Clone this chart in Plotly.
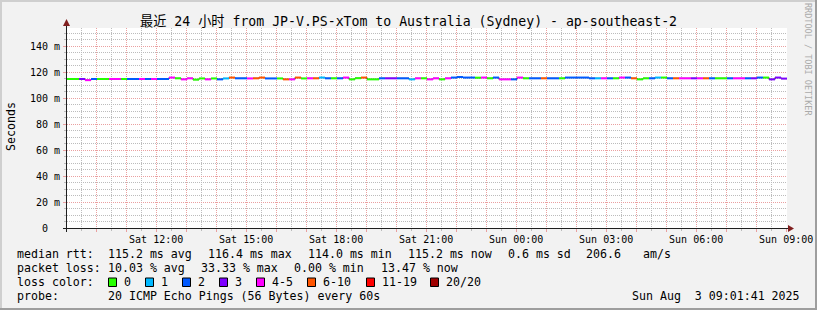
import plotly.graph_objects as go

# ---------------- data ----------------
end_hour = 33 + 1 / 60 + 41 / 3600      # Sun 09:01:41, hours since Sat 00:00
span_hours = 24.0
bin_hours = 12 / 60                      # 12-minute consolidated steps

median_rtt_ms = [
    114.9, 114.9, 114.9, 114.0, 114.9, 114.9, 114.9, 114.9, 114.9, 114.9,
    114.9, 114.9, 114.9, 114.9, 114.9, 114.9, 114.9, 116.0, 115.4, 114.6,
    115.4, 114.4, 115.3, 114.6, 115.3, 114.6, 115.3, 116.0, 115.4, 115.4,
    115.3, 115.4, 116.0, 115.3, 115.3, 115.3, 114.6, 114.6, 116.0, 115.3,
    115.4, 115.4, 116.0, 115.4, 115.4, 115.4, 116.0, 114.6, 115.5, 116.0,
    114.6, 114.6, 115.4, 115.4, 115.4, 115.4, 115.4, 114.6, 115.4, 115.4,
    114.6, 115.4, 114.6, 115.4, 116.0, 116.4, 116.0, 116.0, 115.9, 116.0,
    115.4, 116.0, 114.6, 114.6, 114.6, 116.0, 115.4, 115.4, 115.4, 115.4,
    115.4, 115.4, 115.4, 116.0, 116.0, 116.0, 116.0, 115.4, 115.4, 115.4,
    115.4, 115.4, 116.0, 116.0, 115.4, 114.6, 115.4, 115.4, 116.0, 116.0,
    115.4, 115.4, 115.4, 115.4, 115.4, 115.4, 115.4, 115.4, 115.4, 115.4,
    115.4, 115.4, 115.4, 115.4, 115.4, 116.0, 116.0, 114.6, 116.0, 115.2,
]

loss_pings = [
    0, 0, 3, 4, 2, 0, 0, 4, 4, 0,
    2, 2, 4, 2, 4, 2, 2, 4, 0, 4,
    4, 0, 0, 4, 0, 2, 1, 7, 2, 2,
    4, 7, 7, 2, 2, 0, 7, 4, 7, 0,
    4, 7, 1, 2, 0, 2, 4, 0, 0, 7,
    0, 0, 2, 3, 3, 2, 2, 1, 4, 0,
    4, 4, 0, 4, 2, 2, 2, 2, 0, 4,
    0, 2, 4, 4, 2, 4, 0, 2, 2, 7,
    2, 2, 0, 2, 2, 2, 2, 2, 1, 4,
    2, 0, 4, 2, 7, 0, 0, 2, 1, 0,
    2, 7, 4, 4, 3, 4, 7, 2, 0, 0,
    2, 4, 4, 2, 3, 2, 0, 3, 3, 3,
]

loss_class_lo = [0, 1, 2, 3, 4, 6, 11, 20]
loss_class_hi = [0, 1, 2, 3, 5, 10, 19, 20]
loss_class_labels = ["0", "1", "2", "3", "4-5", "6-10", "11-19", "20/20"]
loss_class_colors = ["#26ff00", "#00b8ff", "#0059ff", "#7e00ff",
                     "#ff00ff", "#ff5500", "#ff0000", "#a00000"]

y_tick_vals = [0, 20, 40, 60, 80, 100, 120, 140]
y_tick_text = ["0\u00a0\u00a0"] + [f"{v} m" for v in y_tick_vals[1:]]
x_tick_hours = list(range(10, 34))
x_tick_text = [(f"{'Sat' if h < 24 else 'Sun'} {h % 24:02d}:00" if h % 3 == 0 else "")
               for h in x_tick_hours]

title_text = "最近 24 小时 from JP-V.PS-xTom to Australia (Sydney) - ap-southeast-2"
row_rtt = [("median rtt:", 16), ("115.2 ms avg", 107), ("116.4 ms max", 207),
           ("114.0 ms min", 307), ("115.2 ms now", 407), ("0.6 ms sd", 507),
           ("206.6", 585), ("am/s", 642)]
row_loss = [("packet loss:", 16), ("10.03 % avg", 107), ("33.33 % max", 200),
            ("0.00 % min", 293), ("13.47 % now", 380)]
probe_text = "20 ICMP Echo Pings (56 Bytes) every 60s"
date_text = "Sun Aug  3 09:01:41 2025"

# ---------------- style ----------------
FIG_W, FIG_H = 817, 310
PL, PR, PT, PB = 67, 787, 28, 228
FONT = "DejaVu Sans Mono, Noto Sans CJK SC, monospace"
BACK = "#f2f2f2"
GRID = "#bcbcbc"
MGRID = "#eaa0a0"
ARROW = "#801f1f"
AXIS = "#1f1f1f"
Y_MAX = 154.2


def px(x):
    return (x - PL) / (PR - PL)


def py(y):
    return (PB - y) / (PB - PT)


start_hour = end_hour - span_hours
bin_start = [start_hour + i * bin_hours for i in range(len(median_rtt_ms))]

fig = go.Figure()

# dark connector line (shows the step transitions)
fig.add_trace(go.Scatter(
    x=bin_start + [end_hour], y=median_rtt_ms + [median_rtt_ms[-1]],
    mode="lines", line=dict(color="#000000", width=1, shape="hv"),
    hoverinfo="skip", showlegend=False))

for lo, hi, col in zip(loss_class_lo, loss_class_hi, loss_class_colors):
    xs, ys = [], []
    for t, v, l in zip(bin_start, median_rtt_ms, loss_pings):
        if lo <= l <= hi:
            xs += [t, t + bin_hours, None]
            ys += [v, v, None]
    if xs:
        fig.add_trace(go.Scatter(x=xs, y=ys, mode="lines",
                                 line=dict(color=col, width=2),
                                 hoverinfo="skip", showlegend=False))

shapes = []
for (x0, y0, x1, y1, c) in [(0, 1, FIG_W, 1, "#cfcfcf"), (1, 0, 1, FIG_H, "#cfcfcf"),
                            (0, FIG_H - 1, FIG_W, FIG_H - 1, "#9e9e9e"),
                            (FIG_W - 1, 0, FIG_W - 1, FIG_H, "#9e9e9e")]:
    shapes.append(dict(type="line", xref="paper", yref="paper",
                       x0=px(x0), x1=px(x1), y0=py(y0), y1=py(y1),
                       line=dict(color=c, width=2), layer="above"))
# axes with arrows
shapes.append(dict(type="line", xref="paper", yref="paper",
                   x0=px(63), x1=px(789), y0=py(228.5), y1=py(228.5),
                   line=dict(color=AXIS, width=1), layer="above"))
shapes.append(dict(type="line", xref="paper", yref="paper",
                   x0=px(66.5), x1=px(66.5), y0=py(232), y1=py(24),
                   line=dict(color=AXIS, width=1), layer="above"))
shapes.append(dict(type="path", xref="paper", yref="paper",
                   path=f"M {px(788)} {py(225)} L {px(794)} {py(228.5)} L {px(788)} {py(232)} Z",
                   line=dict(width=0), fillcolor=ARROW, layer="above"))
shapes.append(dict(type="path", xref="paper", yref="paper",
                   path=f"M {px(63)} {py(26)} L {px(66.5)} {py(19)} L {px(70)} {py(26)} Z",
                   line=dict(width=0), fillcolor=ARROW, layer="above"))

annotations = []


def text(s, x, y, size=11.6, xanchor="left", color="#000000", angle=0):
    annotations.append(dict(text=s, x=px(x), y=py(y), xref="paper", yref="paper",
                            xanchor=xanchor, yanchor="middle", showarrow=False,
                            borderpad=0, textangle=angle,
                            font=dict(family=FONT, size=size, color=color)))


text(title_text, 408.5, 21.7, size=13.2, xanchor="center")
text("Seconds", 11, 127, size=11.6, xanchor="center", angle=-90)
text("RRDTOOL / TOBI OETIKER", 808, 60, size=8.5, xanchor="center", color="#aaaaaa", angle=90)

for s, x in row_rtt:
    text(s, x, 254.3)
for s, x in row_loss:
    text(s, x, 268.3)
text("loss color:", 16, 282.3)
swatch_x = [108, 145, 182, 219, 256, 307, 366, 430]
for sx, lab, col in zip(swatch_x, loss_class_labels, loss_class_colors):
    shapes.append(dict(type="rect", xref="paper", yref="paper",
                       x0=px(sx + 0.5), x1=px(sx + 8.5), y0=py(278), y1=py(286.5),
                       line=dict(color="#000000", width=1), fillcolor=col, layer="above"))
    text(lab, sx + 15, 282.3)
text("probe:", 16, 296)
text(probe_text, 107, 296)
text(date_text, 801, 296, xanchor="right")

fig.update_layout(
    width=FIG_W, height=FIG_H, autosize=False,
    margin=dict(l=PL, r=FIG_W - PR, t=PT, b=FIG_H - PB, pad=0, autoexpand=False),
    paper_bgcolor=BACK, plot_bgcolor="#ffffff",
    showlegend=False,
    font=dict(family=FONT, color="#000000"),
    xaxis=dict(range=[start_hour, end_hour], tickmode="array",
               tickvals=x_tick_hours, ticktext=x_tick_text,
               showgrid=True, gridcolor=MGRID, griddash="1px,1px", gridwidth=1,
               ticks="outside", ticklen=3, tickcolor=MGRID, tickwidth=1,
               minor=dict(dtick=0.5, tick0=0, showgrid=True, gridcolor=GRID,
                          griddash="1px,1px", gridwidth=1,
                          ticks="outside", ticklen=2, tickcolor=GRID),
               showline=False, zeroline=False, fixedrange=True, automargin=False,
               ticklabelstandoff=-1,
               tickfont=dict(family=FONT, size=10, color="#000000")),
    yaxis=dict(range=[0, Y_MAX], tickmode="array",
               tickvals=y_tick_vals, ticktext=y_tick_text,
               showgrid=True, gridcolor=MGRID, griddash="1px,1px", gridwidth=1,
               ticks="outside", ticklen=3, tickcolor=MGRID, tickwidth=1,
               minor=dict(dtick=5, tick0=0, showgrid=True, gridcolor=GRID,
                          griddash="1px,1px", gridwidth=1,
                          ticks="outside", ticklen=2, tickcolor=GRID),
               showline=False, zeroline=False, fixedrange=True, automargin=False,
               ticklabelstandoff=1,
               tickfont=dict(family=FONT, size=10, color="#000000")),
    shapes=shapes, annotations=annotations,
)

fig.write_html("out.html", config={"displayModeBar": False, "staticPlot": True})
